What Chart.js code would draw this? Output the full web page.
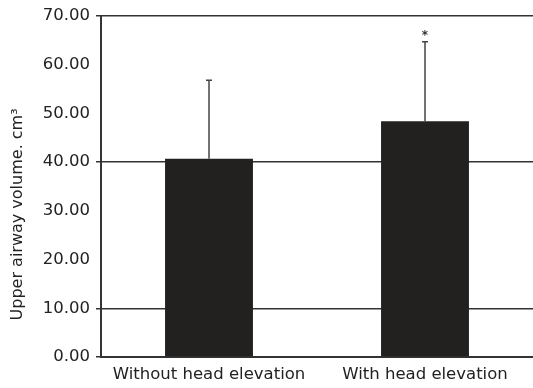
<!DOCTYPE html>
<html>
<head>
<meta charset="utf-8">
<script src="https://cdn.jsdelivr.net/npm/chart.js@4/dist/chart.umd.min.js"></script>
<style>
  html, body { margin: 0; padding: 0; background: #fff; }
  #wrap { width: 533px; height: 388px; }
</style>
</head>
<body>
<div id="wrap"><canvas id="volumeChart"></canvas></div>
<script>
// values
var categories = ["Without head elevation", "With head elevation"];
var meanVolume = [40.7, 48.4];
var sdVolume = [16.1, 16.3];
var markers = ["", "*"];
var yTicks = [0, 10, 20, 30, 40, 50, 60, 70];
var shownGrid = [10, 40, 70];

// upper whisker + significance mark
var errorBars = {
  id: 'errorBars',
  afterDatasetsDraw: function (chart) {
    var c = chart.ctx;
    var meta = chart.getDatasetMeta(0);
    var y = chart.scales.y;
    c.save();
    c.strokeStyle = '#444';
    c.lineWidth = 1.5;
    meta.data.forEach(function (bar, i) {
      var top = y.getPixelForValue(meanVolume[i] + sdVolume[i]);
      c.beginPath();
      c.moveTo(bar.x, bar.y);
      c.lineTo(bar.x, top);
      c.moveTo(bar.x - 3, top);
      c.lineTo(bar.x + 3, top);
      c.stroke();
      if (markers[i]) {
        c.fillStyle = '#333';
        c.font = 'bold 12px "DejaVu Sans"';
        c.textAlign = 'center';
        c.textBaseline = 'bottom';
        c.fillText(markers[i], bar.x, top);
      }
    });
    c.restore();
  }
};

var ctx = document.getElementById('volumeChart').getContext('2d');
var volumeChart = new Chart(ctx, {
  type: 'bar',
  data: {
    labels: categories,
    datasets: [{
      data: meanVolume,
      backgroundColor: '#222120',
      borderWidth: 0,
      categoryPercentage: 1,
      barPercentage: 0.407
    }]
  },
  options: {
    responsive: true,
    maintainAspectRatio: false,
    animation: false,
    layout: { padding: { top: 15, right: 0, left: 0, bottom: 0 } },
    plugins: { legend: { display: false }, tooltip: { enabled: false } },
    scales: {
      x: {
        grid: { display: false },
        border: { display: true, color: '#333', width: 2 },
        ticks: { color: '#222', font: { family: '"DejaVu Sans"', size: 16.5 }, padding: 0 },
        afterFit: function (s) { s.height = 31; }
      },
      y: {
        min: 0,
        max: 70,
        afterBuildTicks: function (s) { s.ticks = yTicks.map(function (v) { return { value: v }; }); },
        grid: {
          color: function (g) { return shownGrid.indexOf(g.tick.value) >= 0 || g.tick.value === 0 ? '#333' : 'rgba(0,0,0,0)'; },
          lineWidth: 1.5,
          tickLength: 5
        },
        border: { display: true, color: '#333', width: 2 },
        ticks: {
          color: '#222',
          font: { family: '"DejaVu Sans"', size: 16.5 },
          padding: 6,
          callback: function (v) { return Number(v).toFixed(2); }
        },
        title: {
          display: true,
          // trailing spaces push the visible text lower, as in the figure
          text: 'Upper airway volume. cm³' + '\u00a0'.repeat(11),
          color: '#222',
          font: { family: '"DejaVu Sans"', size: 16 },
          padding: { top: 8, bottom: 4 }
        },
        afterFit: function (s) { s.width = 101; }
      }
    }
  },
  plugins: [errorBars]
});
</script>
</body>
</html>
